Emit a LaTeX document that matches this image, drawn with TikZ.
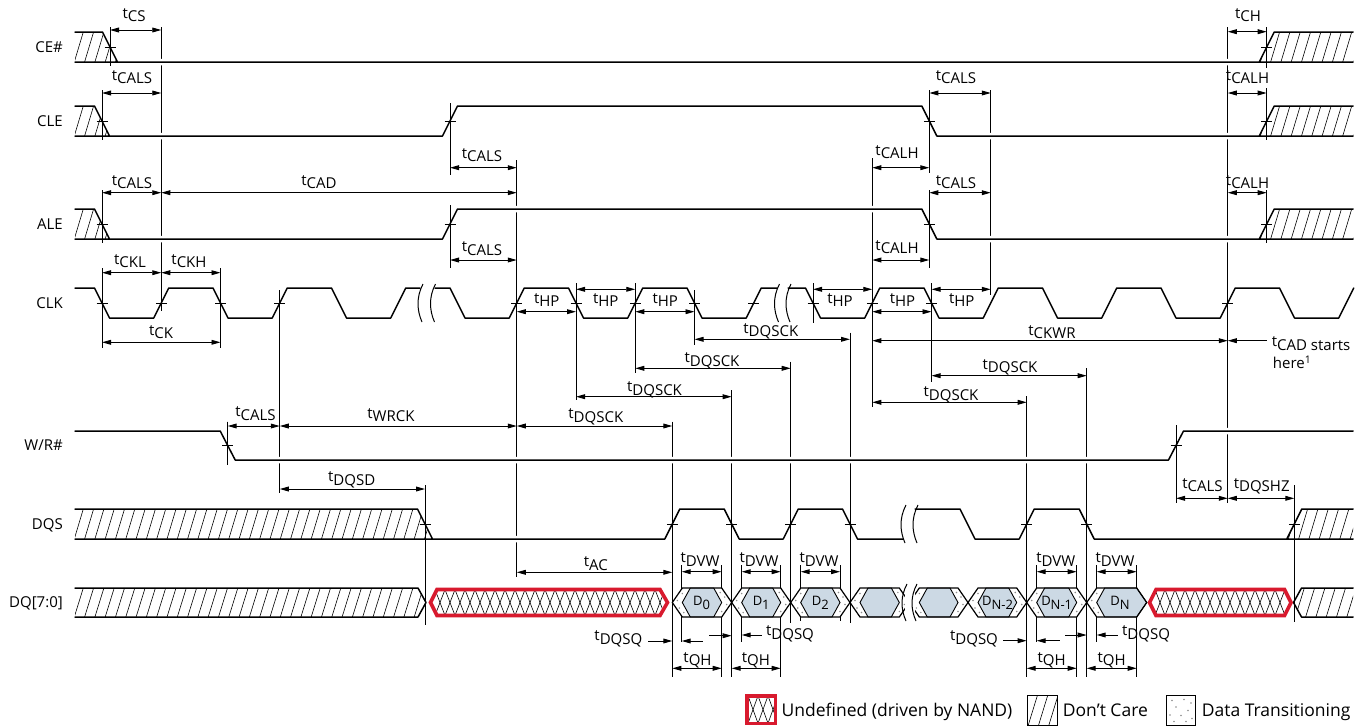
\documentclass[tikz,border=0pt]{standalone}
\usepackage{fontspec}
\setmainfont{Open Sans}
\usetikzlibrary{arrows.meta}
\definecolor{nandred}{RGB}{216,26,46}
\definecolor{datablue}{RGB}{204,217,228}
\definecolor{dotgray}{RGB}{140,140,140}
\newcommand\tsub[1]{t\raisebox{-3.3pt}{#1}}
\newcommand\dsub[1]{D\raisebox{-4.5pt}{#1}}
\newcommand\lblfont{\fontsize{15}{18}\selectfont}
\newcommand\legfont{\fontsize{17.5}{21}\selectfont}
\newcommand\cellfont{\fontsize{13}{15}\selectfont}
% don't-care hatch: #1 clip path, #2 x start, #3 x end, #4 ytop, #5 ybot
\newcommand\dchatch[5]{%
  \begin{scope}
    \clip #1;
    \pgfmathtruncatemacro\myhn{(#3-#2)/10.3+1}
    \foreach \myhk in {0,...,\myhn}{\draw[hatchln] ({#2+10.3*\myhk},#5) -- ++(9,{#4-#5});}
  \end{scope}}
% undefined cross hatch
\newcommand\xhatch[5]{%
  \begin{scope}
    \clip #1;
    \pgfmathtruncatemacro\myhn{(#3-#2)/10+1}
    \foreach \myhk in {0,...,\myhn}{%
      \draw[hatchln] ({#2+10*\myhk},#5) -- ++(10,{#4-#5});
      \draw[hatchln] ({#2+10*\myhk},#4) -- ++(10,{#5-#4});}
  \end{scope}}
% data cell between crossings #1 and #2
\newcommand\dcell[2]{%
  \fill[white] (#1,602.5) -- ({#1+10},588) -- ({#2-10},588) -- (#2,602.5) -- ({#2-10},617) -- ({#1+10},617) -- cycle;
  \filldraw[fill=datablue,line width=0.9pt] ({#1+10},602.5) -- ({#1+18},588) -- ({#2-18},588) -- ({#2-10},602.5) -- ({#2-18},617) -- ({#1+18},617) -- cycle;
  \foreach \dx/\dy in {5/600.5,10/593.5,7/608,11.5/612.5}{\fill[dotgray] ({#1+\dx},\dy) circle (0.8pt);}
  \foreach \dx/\dy in {5/604.5,10/611.5,7/597,11.5/592.5}{\fill[dotgray] ({#2-\dx},\dy) circle (0.8pt);}
  \draw[line width=1.2pt,line join=miter] (#1,602.5) -- ({#1+10},588) -- ({#2-10},588) -- (#2,602.5) -- ({#2-10},617) -- ({#1+10},617) -- cycle;}
\newcommand\dcellN[2]{%
  \fill[white] (#1,602.5) -- ({#1+10},588) -- ({#2-10},588) -- (#2,602.5) -- ({#2-10},617) -- ({#1+10},617) -- cycle;
  \filldraw[fill=datablue,line width=0.9pt] ({#1+10},602.5) -- ({#1+18},588) -- ({#2-10},588) -- (#2,602.5) -- ({#2-10},617) -- ({#1+18},617) -- cycle;
  \foreach \dx/\dy in {5/600.5,10/593.5,7/608,11.5/612.5}{\fill[dotgray] ({#1+\dx},\dy) circle (0.8pt);}
  \draw[line width=1.2pt,line join=miter] (#1,602.5) -- ({#1+10},588) -- ({#2-10},588) -- (#2,602.5) -- ({#2-10},617) -- ({#1+10},617) -- cycle;}
\newcommand\squigl[3]{\draw[squig] ({#1+2},#2) .. controls ({#1-5},{#2+0.35*(#3-#2)}) and ({#1-4},{#2+0.7*(#3-#2)}) .. ({#1+1},#3);}
\newcommand\pSig{%
 (75,62) -- (1259.2,62) -- (1274.2,32) -- (1353,32)
 (75,32) -- (102.5,32) -- (117.5,62)
 (1259.2,62) -- (1353,62)
 (75,136) -- (442.5,136) -- (457.5,106) -- (921.8,106) -- (936.8,136) -- (1259.2,136) -- (1274.2,106) -- (1353,106)
 (75,106) -- (94.5,106) -- (109.5,136)
 (1259.2,136) -- (1353,136)
 (75,239) -- (442.5,239) -- (457.5,209) -- (921.8,209) -- (936.8,239) -- (1259.2,239) -- (1274.2,209) -- (1353,209)
 (75,209) -- (94.5,209) -- (109.5,239)
 (1259.2,239) -- (1353,239)
 (75,431) -- (220.2,431) -- (235.2,460) -- (1168.5,460) -- (1183.5,431) -- (1353,431)
 (75,539) -- (664.8,539) -- (679.8,509) -- (724.2,509) -- (739.2,539) -- (783.2,539) -- (798.2,509) -- (842.5,509) -- (857.5,539) -- (903,539)
 (915,509) -- (960,509) -- (975,539) -- (1019.2,539) -- (1034.2,509) -- (1079.2,509) -- (1094.2,539) -- (1286.8,539) -- (1301.8,509) -- (1353,509)
 (75,509) -- (417.5,509) -- (432.5,539)
 (1286.8,539) -- (1353,539)
 (75,288) \foreach \j in {0,1,2}{ -- ({94.5+118.5*\j},288) -- ({109.5+118.5*\j},318) -- ({153.75+118.5*\j},318) -- ({168.75+118.5*\j},288)} -- (420,288)
 (435,288) \foreach \j in {3,4,5}{ -- ({94.5+118.5*\j},288) -- ({109.5+118.5*\j},318) -- ({153.75+118.5*\j},318) -- ({168.75+118.5*\j},288)} -- (777,288)
 (788,288) \foreach \j in {6,...,10}{ -- ({94.5+118.5*\j},288) -- ({109.5+118.5*\j},318) -- ({153.75+118.5*\j},318) -- ({168.75+118.5*\j},288)}
}
\begin{document}
\begin{tikzpicture}[x=1pt,y=-1pt,
  sig/.style={line width=1.5pt,line join=round,line cap=round},
  halo/.style={line width=6.5pt,draw=white},
  vl/.style={line width=0.95pt},
  hatchln/.style={line width=0.6pt},
  squig/.style={line width=1pt},
  dimA/.style={line width=0.95pt,{Triangle[length=9pt,width=4.8pt]}-{Triangle[length=9pt,width=4.8pt]}},
  dimR/.style={line width=0.95pt,-{Triangle[length=9pt,width=4.8pt]}},
  dimL/.style={line width=0.95pt,{Triangle[length=9pt,width=4.8pt]}-},
  lbl/.style={font=\lblfont,inner sep=0pt,anchor=base},
  lblw/.style={font=\lblfont,inner sep=0pt,anchor=base west},
  sname/.style={font=\lblfont,inner sep=0pt,anchor=base east},
  leg/.style={font=\legfont,inner sep=0pt,anchor=base west},
  cell/.style={font=\cellfont,inner sep=0pt,anchor=base}]
\useasboundingbox (0,0) rectangle (1368,726);

% ---------- reference (vertical) lines
\foreach \vx/\ya/\yb in {110/27/66, 161.25/27/311, 102/90/140, 102/190/243, 102/268/348, 220.5/268/348,
  227.7/421.7/465, 279.75/290/493, 425/485/625, 450/103/175, 450/205/268, 516.75/160/577,
  576/283/400, 635.25/283/373, 694.5/290/345, 672.3/421.7/676.7, 731.7/390/676.7,
  790.7/361.7/623, 850/332.7/623, 813/283/323, 872.25/158/406.7, 929.3/90/173, 929.3/190/268,
  931.5/283/381.7, 990.75/90/295, 1026.7/396/676.7, 1086.7/368.3/676.7, 1176/425/503,
  1227.75/27/503, 1266.7/27/68, 1266.7/88/140, 1266.7/190/243, 1294.3/485/621.7,
  681.7/565/641.7, 721.7/565/676.7, 741.7/565/641.7, 780.7/565/676.7, 800.7/565/621, 840/565/621,
  1036.7/565/641.7, 1076.7/565/676.7, 1096.7/565/641.7, 1136.7/565/676.7}
  {\draw[vl] (\vx,\ya) -- (\vx,\yb);}

% ---------- signals
\draw[halo] \pSig;
\dchatch{(75,32) -- (102.5,32) -- (117.5,62) -- (75,62) -- cycle}{64}{118}{32}{62}
\dchatch{(1259.2,62) -- (1274.2,32) -- (1353,32) -- (1353,62) -- cycle}{1250}{1353}{32}{62}
\dchatch{(75,106) -- (94.5,106) -- (109.5,136) -- (75,136) -- cycle}{64}{110}{106}{136}
\dchatch{(1259.2,136) -- (1274.2,106) -- (1353,106) -- (1353,136) -- cycle}{1250}{1353}{106}{136}
\dchatch{(75,209) -- (94.5,209) -- (109.5,239) -- (75,239) -- cycle}{64}{110}{209}{239}
\dchatch{(1259.2,239) -- (1274.2,209) -- (1353,209) -- (1353,239) -- cycle}{1250}{1353}{209}{239}
\dchatch{(75,509) -- (417.5,509) -- (432.5,539) -- (75,539) -- cycle}{64}{433}{509}{539}
\dchatch{(1286.8,539) -- (1301.8,509) -- (1353,509) -- (1353,539) -- cycle}{1278}{1353}{509}{539}
\dchatch{(75,588) -- (418,588) -- (426,602.5) -- (418,617) -- (75,617) -- cycle}{64}{427}{588}{617}
\dchatch{(1293.5,602.5) -- (1301.5,588) -- (1353,588) -- (1353,617) -- (1301.5,617) -- cycle}{1285}{1353}{588}{617}
\draw[sig] \pSig;

% breaks
\squigl{421}{284}{322}\squigl{433.5}{284}{322}
\squigl{777.5}{284}{322}\squigl{789}{284}{322}
\squigl{904}{505}{543}\squigl{916}{505}{543}

% ---------- DQ bus
\draw[sig] (75,588) -- (418,588) -- (426,602.5) -- (418,617) -- (75,617);
\draw[sig] (1353,588) -- (1301.5,588) -- (1293.5,602.5) -- (1301.5,617) -- (1353,617);
\xhatch{(430.5,602.5) -- (437,589.5) -- (660,589.5) -- (667.5,602.5) -- (660,615.5) -- (437,615.5) -- cycle}{425}{670}{589.5}{615.5}
\draw[nandred,line width=3.6pt,line join=miter] (430.5,602.5) -- (437,589.5) -- (660,589.5) -- (667.5,602.5) -- (660,615.5) -- (437,615.5) -- cycle;
\xhatch{(1149.5,602.5) -- (1156,589.5) -- (1284.5,589.5) -- (1291,602.5) -- (1284.5,615.5) -- (1156,615.5) -- cycle}{1145}{1292}{589.5}{615.5}
\draw[nandred,line width=3.6pt,line join=miter] (1149.5,602.5) -- (1156,589.5) -- (1284.5,589.5) -- (1291,602.5) -- (1284.5,615.5) -- (1156,615.5) -- cycle;
\dcell{672.3}{731.7}\dcell{731.7}{790.7}\dcell{790.7}{850}\dcell{850}{909.3}\dcell{909.3}{968}
\dcell{968}{1026.7}\dcell{1026.7}{1086.7}\dcellN{1086.7}{1146.7}
\fill[white] (904.5,585.5) rectangle (914.5,619.5);
\squigl{905}{584}{621}\squigl{915}{584}{621}
\node (d0) [cell] at (701.5,605) {\dsub{0}};
\node (d1) [cell] at (761.2,605) {\dsub{1}};
\node (d2) [cell] at (820.3,605) {\dsub{2}};
\node (dn2) [cell] at (997.5,605) {\dsub{N-2}};
\node (dn1) [cell] at (1056.7,605) {\dsub{N-1}};
\node (dn) [cell] at (1120,605) {\dsub{N}};

% ---------- restore reference lines through crossings
\foreach \vx/\ya/\yb in {110/27/66, 102/90/140, 102/190/243, 102/284/322, 161.25/284/311, 220.5/268/348,
  227.7/421.7/465, 279.75/290/322, 425/485/625, 450/103/175, 450/205/268, 516.75/284/322,
  576/283/400, 635.25/283/373, 694.5/290/345, 813/283/323, 872.25/284/322, 929.3/90/173, 929.3/190/268,
  931.5/283/381.7, 1176/425/503, 1227.75/284/322, 1266.7/27/68, 1266.7/88/140, 1266.7/190/243,
  1294.3/485/560, 672.3/505/543, 731.7/505/543, 790.7/505/543, 850/505/543, 1026.7/505/543, 1086.7/505/543}
  {\draw[vl] (\vx,\ya) -- (\vx,\yb);}
% crossing marks
\foreach \cx/\cy in {110/47, 1266.7/47, 102/121, 450/121, 929.3/121, 1266.7/121,
  102/224, 450/224, 929.3/224, 1266.7/224,
  102/303, 161.25/303, 220.5/303, 279.75/303, 516.75/303, 576/303, 635.25/303, 694.5/303, 753.75/303,
  813/303, 872.25/303, 931.5/303, 1227.75/303, 227.7/445.5, 1176/445.5,
  425/524, 672.3/524, 731.7/524, 790.7/524, 850/524, 1026.7/524, 1086.7/524, 1294.3/524}
  {\draw[vl] ({\cx-5.5},\cy) -- ({\cx+5.5},\cy);}

% ---------- signal names
\node (nce) [sname] at (63,52) {CE\#};
\node (ncle) [sname] at (63,126) {CLE};
\node (nale) [sname] at (63,229) {ALE};
\node (nclk) [sname] at (63,308) {CLK};
\node (nwr) [sname] at (63,450.5) {W/R\#};
\node (ndqs) [sname] at (63,529) {DQS};
\node (ndq) [sname] at (63,607.5) {DQ[7:0]};

% ---------- timing dimensions
\draw[dimA] (110,30) -- (161.25,30);            \node (a1) [lbl] at (134,18.4) {\tsub{CS}};
\draw[dimA] (102,93) -- (161.25,93);            \node (a2) [lbl] at (132,80) {\tsub{CALS}};
\draw[dimA] (102,192.7) -- (161.25,192.7);      \node (a3) [lbl] at (132,185) {\tsub{CALS}};
\draw[dimA] (161.25,192.7) -- (516.75,192.7);   \node (a4) [lbl] at (319,185) {\tsub{CAD}};
\draw[dimA] (450,167.7) -- (516.75,167.7);      \node (a5) [lbl] at (482,158.4) {\tsub{CALS}};
\draw[dimA] (450,260) -- (516.75,260);          \node (a6) [lbl] at (482,251.7) {\tsub{CALS}};
\draw[dimA] (872.25,167.7) -- (929.3,167.7);    \node (a7) [lbl] at (897,155) {\tsub{CALH}};
\draw[dimA] (872.25,260) -- (929.3,260);        \node (a8) [lbl] at (897,250) {\tsub{CALH}};
\draw[dimA] (929.3,93) -- (990.75,93);          \node (a9) [lbl] at (956,80) {\tsub{CALS}};
\draw[dimA] (929.3,192.7) -- (990.75,192.7);    \node (a10) [lbl] at (956,185) {\tsub{CALS}};
\draw[dimA] (1227.75,31.7) -- (1266.7,31.7);    \node (a11) [lbl] at (1248,18.4) {\tsub{CH}};
\draw[dimA] (1227.75,93) -- (1266.7,93);        \node (a12) [lbl] at (1247.5,80) {\tsub{CALH}};
\draw[dimA] (1227.75,192.7) -- (1266.7,192.7);  \node (a13) [lbl] at (1247.5,185) {\tsub{CALH}};
% clock
\draw[dimA] (102,272.7) -- (161.25,272.7);      \node (b1) [lbl] at (130,264) {\tsub{CKL}};
\draw[dimA] (161.25,272.7) -- (220.5,272.7);    \node (b2) [lbl] at (189,264) {\tsub{CKH}};
\draw[dimA] (102,342.3) -- (220.5,342.3);       \node (b3) [lbl] at (161,335) {\tsub{CK}};
\draw[dimA] (516.75,311.7) -- (576,311.7);      \node (h1) [lbl] at (546.7,303.4) {\tsub{HP}};
\draw[dimA] (576,289.3) -- (635.25,289.3);      \node (h2) [lbl] at (605.8,303.4) {\tsub{HP}};
\draw[dimA] (635.25,311.7) -- (694.5,311.7);    \node (h3) [lbl] at (665.3,303.4) {\tsub{HP}};
\draw[dimA] (813,289.3) -- (872.25,289.3);      \node (h4) [lbl] at (840,303.4) {\tsub{HP}};
\draw[dimA] (872.25,311.7) -- (931.5,311.7);    \node (h5) [lbl] at (902.5,303.4) {\tsub{HP}};
\draw[dimA] (931.5,289.3) -- (990.75,289.3);    \node (h6) [lbl] at (961.7,303.4) {\tsub{HP}};
% DQSCK
\draw[dimA] (694.5,339.3) -- (850,339.3);       \node (c1) [lbl] at (770.8,333.5) {\tsub{DQSCK}};
\draw[dimA] (635.25,368.3) -- (790.7,368.3);    \node (c2) [lbl] at (712,362.7) {\tsub{DQSCK}};
\draw[dimA] (576,396.7) -- (731.7,396.7);       \node (c3) [lbl] at (654.5,391.7) {\tsub{DQSCK}};
\draw[dimA] (516.75,426) -- (672.3,426);        \node (c4) [lbl] at (595.8,418.7) {\tsub{DQSCK}};
\draw[dimA] (931.5,375.7) -- (1086.7,375.7);    \node (c5) [lbl] at (1010,369.4) {\tsub{DQSCK}};
\draw[dimA] (872.25,402.3) -- (1026.7,402.3);   \node (c6) [lbl] at (951,396.7) {\tsub{DQSCK}};
\draw[dimA] (872.25,340.7) -- (1227.75,340.7);  \node (c7) [lbl] at (1052,335) {\tsub{CKWR}};
\draw[dimL] (1227.75,340.7) -- (1266.7,340.7);
\node (c8) [lblw] at (1271.7,346.7) {\tsub{CAD starts}};
\node (c9) [lblw] at (1272.7,368.3) {here\textsuperscript{1}};
% W/R# and DQS
\draw[dimA] (227.7,426) -- (279.75,426);        \node (e1) [lbl] at (255.5,416.7) {\tsub{CALS}};
\draw[dimA] (279.75,426) -- (516.75,426);       \node (e2) [lbl] at (391,418.4) {\tsub{WRCK}};
\draw[dimA] (279.75,489) -- (425,489);          \node (e3) [lbl] at (351.7,481.7) {\tsub{DQSD}};
\draw[dimA] (1176,498.3) -- (1227.75,498.3);    \node (e4) [lbl] at (1202.5,488.4) {\tsub{CALS}};
\draw[dimA] (1227.75,498.3) -- (1294.3,498.3);  \node (e5) [lbl] at (1261.7,488.4) {\tsub{DQSHZ}};
% DQ
\draw[dimA] (516.75,572.3) -- (672.3,572.3);    \node (f1) [lbl] at (595.8,566.7) {\tsub{AC}};
\draw[dimA] (681.7,571.7) -- (721.7,571.7);     \node (g1) [lbl] at (700,562.7) {\tsub{DVW}};
\draw[dimA] (741.7,571.7) -- (780.7,571.7);     \node (g2) [lbl] at (759,562.7) {\tsub{DVW}};
\draw[dimA] (800.7,571.7) -- (840,571.7);       \node (g3) [lbl] at (819,562.7) {\tsub{DVW}};
\draw[dimA] (1036.7,571.7) -- (1076.7,571.7);   \node (g4) [lbl] at (1055.8,562.7) {\tsub{DVW}};
\draw[dimA] (1096.7,571.7) -- (1136.7,571.7);   \node (g5) [lbl] at (1115,562.7) {\tsub{DVW}};
\draw[dimR] (648.3,641) -- (672.3,641);         \node (q1) [lbl] at (618.4,640.7) {\tsub{DQSQ}};
\draw[dimL] (681.7,641) -- (703.3,641);
\draw[dimR] (709.3,635.7) -- (731.7,635.7);
\draw[dimL] (741.7,635) -- (761.7,635);         \node (q2) [lbl] at (790,635.7) {\tsub{DQSQ}};
\draw[dimR] (1003.3,640.7) -- (1026.7,640.7);   \node (q3) [lbl] at (974,640.7) {\tsub{DQSQ}};
\draw[dimL] (1036.7,640.7) -- (1060,640.7);
\draw[dimR] (1065,635) -- (1086.7,635);
\draw[dimL] (1096.7,635) -- (1118.3,635);       \node (q4) [lbl] at (1146,635.7) {\tsub{DQSQ}};
\draw[dimA] (672.3,668.3) -- (721.7,668.3);     \node (k1) [lbl] at (697.5,662.2) {\tsub{QH}};
\draw[dimA] (731.7,668.3) -- (780.7,668.3);     \node (k2) [lbl] at (755.8,662.2) {\tsub{QH}};
\draw[dimA] (1026.7,668.3) -- (1076.7,668.3);   \node (k3) [lbl] at (1051.7,662.2) {\tsub{QH}};
\draw[dimA] (1086.7,668.3) -- (1136.7,668.3);   \node (k4) [lbl] at (1111.7,662.2) {\tsub{QH}};

% ---------- legend
\xhatch{(746.8,695.8) rectangle (775.5,723.3)}{738}{776}{695.8}{723.3}
\draw[nandred,line width=3.6pt] (746.8,695.8) rectangle (775.5,723.3);
\node (lg1) [leg] at (781.5,716) {Undefined (driven by NAND)};
\dchatch{(1027.3,695.7) rectangle (1057.3,725)}{1018}{1058}{695.7}{725}
\draw[line width=0.95pt] (1027.3,695.7) rectangle (1057.3,725);
\node (lg2) [leg] at (1062.7,716) {Don’t Care};
\draw[line width=0.95pt] (1166,695.7) rectangle (1195,725);
\foreach \px/\py in {1172/700.5,1184/699.5,1191/703,1176/707,1188/710.5,1170/715,1181/715.5,1192/718.5,1174/721.5,1186/721.5}
  {\fill[dotgray] (\px,\py) circle (0.8pt);}
\node (lg3) [leg] at (1201.7,716) {Data Transitioning};
\end{tikzpicture}
\end{document}
